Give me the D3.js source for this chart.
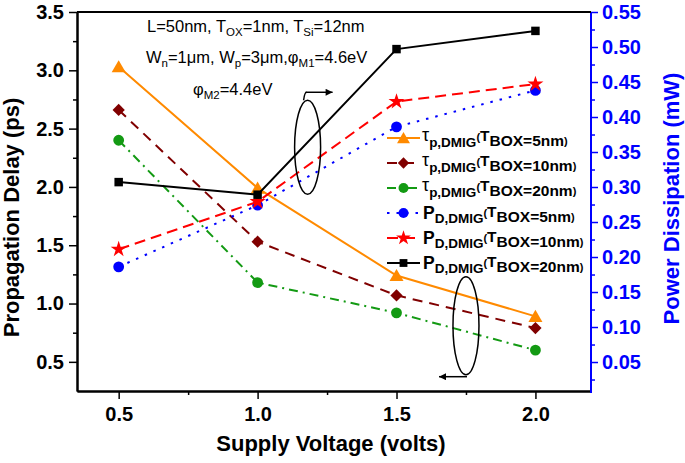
<!DOCTYPE html>
<html><head><meta charset="utf-8">
<script src="https://cdn.jsdelivr.net/npm/d3@7"></script>
<style>body{margin:0;background:#fff}svg{display:block}text{font-family:"Liberation Sans",Arial,sans-serif}</style>
</head><body><svg id="c" width="685" height="463"></svg>
<script>
const voltages = [0.5, 1.0, 1.5, 2.0];
const tauBox5  = [3.03, 1.99, 1.24, 0.89];
const tauBox10 = [2.66, 1.53, 1.07, 0.79];
const tauBox20 = [2.40, 1.18, 0.92, 0.60];
const pdBox5   = [0.186, 0.274, 0.386, 0.438];
const pdBox10  = [0.211, 0.279, 0.422, 0.447];
const pdBox20  = [0.307, 0.289, 0.497, 0.523];
const xTicks = [0.5, 1.0, 1.5, 2.0];
const xMinor = [0.75, 1.25, 1.75];
const yLTicks = [0.5, 1.0, 1.5, 2.0, 2.5, 3.0, 3.5];
const yLMinor = [0.75, 1.25, 1.75, 2.25, 2.75, 3.25];
const yRTicks = [0.05, 0.10, 0.15, 0.20, 0.25, 0.30, 0.35, 0.40, 0.45, 0.50, 0.55];
const yRMinor = [0.025, 0.075, 0.125, 0.175, 0.225, 0.275, 0.325, 0.375, 0.425, 0.475, 0.525];
const boxLabels = ["5nm", "10nm", "20nm"];

const svg = d3.select("#c");
const L = 77, R = 591, T = 12, B = 391;
const x = d3.scaleLinear().domain([0.35, 2.2]).range([L, R]);
const yL = d3.scaleLinear().domain([0.25, 3.5]).range([B, T]);
const yR = d3.scaleLinear().domain([0.0086, 0.55]).range([B, T]);

const series = [
  {vals: tauBox5,  axis: yL, color: "#ff8a00", dash: null,        sym: "tri",  label: "tau", box: boxLabels[0]},
  {vals: tauBox10, axis: yL, color: "#800000", dash: "10,7",      sym: "dia",  label: "tau", box: boxLabels[1]},
  {vals: tauBox20, axis: yL, color: "#139a13", dash: "9,5,2,5",   sym: "circ", label: "tau", box: boxLabels[2]},
  {vals: pdBox5,   axis: yR, color: "#0000ff", dash: "2.5,7",     sym: "circ", label: "pd",  box: boxLabels[0]},
  {vals: pdBox10,  axis: yR, color: "#ff0000", dash: "11,6",      sym: "star", label: "pd",  box: boxLabels[1]},
  {vals: pdBox20,  axis: yR, color: "#000000", dash: null,        sym: "sq",   label: "pd",  box: boxLabels[2]}
];

function symPath(s, scale) {
  scale = scale || 1;
  if (s === "tri") return d3.symbol(d3.symbolTriangle, 85 * scale)();
  if (s === "dia") return d3.symbol(d3.symbolSquare, 75 * scale)();
  if (s === "circ") return d3.symbol(d3.symbolCircle, 92 * scale)();
  if (s === "star") return d3.symbol(d3.symbolStar, 80 * scale)();
  return d3.symbol(d3.symbolSquare, 72 * scale)();
}
function drawMarker(g, s, cx, cy, color, scale) {
  g.append("path").attr("d", symPath(s, scale)).attr("fill", color)
    .attr("transform", `translate(${cx},${cy})` + (s === "dia" ? " rotate(45)" : "") + (s === "tri" ? " translate(0,1.5)" : ""));
}

// axes
svg.append("g").attr("transform", `translate(0,${B})`)
  .call(d3.axisBottom(x).tickValues(xTicks).tickFormat(d3.format(".1f")).tickSize(8).tickSizeOuter(0).tickPadding(8));
svg.append("g").attr("transform", `translate(0,${B})`)
  .call(d3.axisBottom(x).tickValues(xMinor).tickFormat("").tickSize(4).tickSizeOuter(0));
svg.append("g").attr("transform", `translate(${L},0)`)
  .call(d3.axisLeft(yL).tickValues(yLTicks).tickFormat(d3.format(".1f")).tickSize(8).tickSizeOuter(0).tickPadding(5));
svg.append("g").attr("transform", `translate(${L},0)`)
  .call(d3.axisLeft(yL).tickValues(yLMinor).tickFormat("").tickSize(4).tickSizeOuter(0));
svg.append("g").attr("class", "rax").attr("transform", `translate(${R},0)`)
  .call(d3.axisRight(yR).tickValues(yRTicks).tickFormat(d3.format(".2f")).tickSize(7).tickSizeOuter(0).tickPadding(4));
svg.append("g").attr("class", "rax").attr("transform", `translate(${R},0)`)
  .call(d3.axisRight(yR).tickValues(yRMinor).tickFormat("").tickSize(4).tickSizeOuter(0));
svg.selectAll(".domain").attr("stroke-width", 2);
svg.selectAll(".tick line").attr("stroke-width", 1.5);
svg.selectAll(".tick text").attr("font-size", 20).attr("font-weight", "bold").attr("font-family", "Liberation Sans, Arial, sans-serif");
svg.selectAll(".rax .domain, .rax .tick line").attr("stroke", "#0000ff");
svg.selectAll(".rax .tick text").attr("fill", "#0000ff");
svg.selectAll(".rax").selectAll(".domain").attr("d", `M0,${B + 2}V${T}`);
// top frame line
svg.append("line").attr("x1", L).attr("x2", R).attr("y1", T).attr("y2", T).attr("stroke", "#000").attr("stroke-width", 2);

// axis titles
svg.append("text").attr("transform", `translate(19,${(T + B) / 2 + 16}) rotate(-90)`).attr("text-anchor", "middle")
  .attr("font-size", 22).attr("font-weight", "bold").text("Propagation Delay (ps)");
svg.append("text").attr("transform", `translate(679,${(T + B) / 2 - 3}) rotate(-90)`).attr("text-anchor", "middle")
  .attr("font-size", 22).attr("font-weight", "bold").attr("fill", "#0000ff").text("Power Dissipation (mW)");
svg.append("text").attr("x", (L + R) / 2 - 3).attr("y", 451).attr("text-anchor", "middle")
  .attr("font-size", 22).attr("font-weight", "bold").text("Supply Voltage (volts)");

// series
const plot = svg.append("g");
series.forEach(s => {
  const line = d3.line().x((d, i) => x(voltages[i])).y(d => s.axis(d));
  plot.append("path").datum(s.vals).attr("d", line).attr("fill", "none").attr("stroke", s.color)
    .attr("stroke-width", 2).attr("stroke-dasharray", s.dash);
  s.vals.forEach((v, i) => drawMarker(plot, s.sym, x(voltages[i]), s.axis(v), s.color));
});

// rich text helper
function rich(g, x0, parts, attrs) {
  const t = g.append("text").attr("x", x0);
  if (attrs) Object.entries(attrs).forEach(([k, v]) => t.attr(k, v));
  parts.forEach(p => {
    const ts = t.append("tspan").attr("y", p.y).text(p.t);
    if (p.fs) ts.attr("font-size", p.fs);
    if (p.fw) ts.attr("font-weight", p.fw);
  });
  return t;
}

// annotation
const ann = svg.append("g").attr("font-size", 16.5);
rich(ann, 147, [
  {t: "L=50nm, T", y: 32}, {t: "OX", y: 36, fs: 11.5}, {t: "=1nm, T", y: 32}, {t: "Si", y: 36, fs: 11.5}, {t: "=12nm", y: 32}]);
rich(ann, 146, [
  {t: "W", y: 63}, {t: "n", y: 67, fs: 11.5}, {t: "=1μm, W", y: 63}, {t: "p", y: 67, fs: 11.5},
  {t: "=3μm,φ", y: 63}, {t: "M1", y: 67, fs: 11.5}, {t: "=4.6eV", y: 63}]);
rich(ann, 193, [{t: "φ", y: 95}, {t: "M2", y: 99, fs: 11.5}, {t: "=4.4eV", y: 95}]);

// ellipses with arrows
svg.append("defs").append("marker").attr("id", "ah").attr("viewBox", "0 0 10 10").attr("refX", 10).attr("refY", 5)
  .attr("markerWidth", 9).attr("markerHeight", 7).attr("markerUnits", "userSpaceOnUse").attr("orient", "auto")
  .append("path").attr("d", "M0,0L10,5L0,10Z").attr("fill", "#000");
const e1x = x(1.18), e1y = yL(2.34);
svg.append("ellipse").attr("cx", e1x).attr("cy", e1y).attr("rx", 13).attr("ry", 47).attr("fill", "none").attr("stroke", "#000").attr("stroke-width", 1.5);
svg.append("line").attr("x1", e1x - 2).attr("y1", e1y - 55).attr("x2", e1x + 25).attr("y2", e1y - 55).attr("stroke", "#000").attr("stroke-width", 1.5).attr("marker-end", "url(#ah)");
svg.append("path").attr("d", `M${e1x - 4},${e1y - 47}Q${e1x - 3},${e1y - 55} ${e1x - 1},${e1y - 55}`).attr("fill", "none").attr("stroke", "#000").attr("stroke-width", 1.5);
const e2x = x(1.75), e2y = yL(0.81);
svg.append("ellipse").attr("cx", e2x).attr("cy", e2y).attr("rx", 13).attr("ry", 49).attr("fill", "none").attr("stroke", "#000").attr("stroke-width", 1.5);
svg.append("line").attr("x1", e2x + 1).attr("y1", e2y + 51).attr("x2", e2x - 27).attr("y2", e2y + 51).attr("stroke", "#000").attr("stroke-width", 1.5).attr("marker-end", "url(#ah)");

// legend
const lg = svg.append("g");
const rowY = [138, 163, 188, 213, 238, 263];
series.forEach((s, i) => {
  const ry = rowY[i];
  lg.append("line").attr("x1", 387).attr("x2", 420).attr("y1", ry).attr("y2", ry).attr("stroke", s.color)
    .attr("stroke-width", 2).attr("stroke-dasharray", s.dash);
  drawMarker(lg, s.sym, 403.5, ry, s.color, 0.85);
  if (s.label === "tau") {
    rich(lg, 422, [
      {t: "τ", y: ry + 3, fs: 18},
      {t: "p,DMIG", y: ry + 9, fs: 13.5, fw: "bold"},
      {t: "(", y: ry + 3, fs: 11, fw: "bold"},
      {t: "T", y: ry + 3, fs: 15.5, fw: "bold"},
      {t: "BOX=" + s.box, y: ry + 8, fs: 15.5, fw: "bold"},
      {t: ")", y: ry + 7, fs: 11, fw: "bold"}]);
  } else {
    rich(lg, 423, [
      {t: "P", y: ry + 6, fs: 17.5, fw: "bold"},
      {t: "D,DMIG", y: ry + 10, fs: 13.5, fw: "bold"},
      {t: "(", y: ry + 4, fs: 11, fw: "bold"},
      {t: "T", y: ry + 4, fs: 15.5, fw: "bold"},
      {t: "BOX=" + s.box, y: ry + 9, fs: 15.5, fw: "bold"},
      {t: ")", y: ry + 8, fs: 11, fw: "bold"}]);
  }
});
</script></body></html>
